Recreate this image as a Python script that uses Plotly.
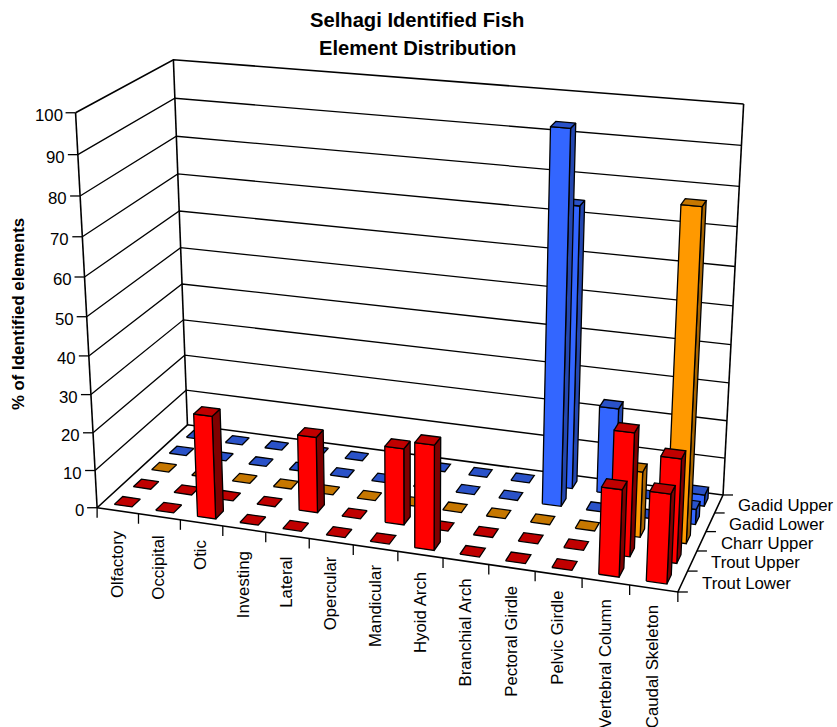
import numpy as np
import plotly.graph_objects as go

categories = ["Olfactory", "Occipital", "Otic", "Investing", "Lateral", "Opercular", "Mandicular",
              "Hyoid Arch", "Branchial Arch", "Pectoral Girdle", "Pelvic Girdle", "Vertebral Column",
              "Caudal Skeleton"]
series_names = ["Trout Lower", "Trout Upper", "Charr Upper", "Gadid Lower", "Gadid Upper"]
trout_lower = [0, 0, 27, 0, 0, 0, 0, 27, 0, 0, 0, 22, 22.5]
trout_upper = [0, 0, 0, 0, 20, 0, 20, 0, 0, 0, 0, 31.5, 26.5]
charr_upper = [0, 0, 0, 0, 0, 0, 0, 0, 0, 0, 0, 17, 83.5]
gadid_lower = [0, 0, 0, 0, 0, 0, 0, 0, 0, 96, 0, 0, 4]
gadid_upper = [0, 0, 0, 0, 0, 0, 0, 0, 0, 74, 23, 0, 3]
y_ticks = [0, 10, 20, 30, 40, 50, 60, 70, 80, 90, 100]

series_values = [trout_lower, trout_upper, charr_upper, gadid_lower, gadid_upper]
FRONT = ["#FF0000", "#FF0000", "#FF9900", "#3366FF", "#3366FF"]
TOP = ["#C00000", "#C00000", "#C67700", "#2A52C8", "#2A52C8"]
SIDE = ["#7F0000", "#7F0000", "#A86500", "#2447B0", "#2447B0"]
LABEL_DROP = [17, 17, 15, 20, 19, 13, 15, 15, 15, 16, 14, 15, 15]

# perspective camera of the box, fitted to its corners
cube = [(0, 0, 0, 97.5, 507.5), (1, 0, 0, 678, 592), (0, 1, 0, 187, 425), (1, 1, 0, 723, 495),
        (0, 0, 1, 75, 113), (0, 1, 1, 174, 59.5), (1, 1, 1, 743.5, 104)]
rows = []
for a, b, c, sx, sy in cube:
    rows.append([a, b, c, 1, 0, 0, 0, 0, -sx * a, -sx * b, -sx * c, -sx])
    rows.append([0, 0, 0, 0, a, b, c, 1, -sy * a, -sy * b, -sy * c, -sy])
P = np.linalg.svd(np.array(rows, float))[2][-1].reshape(3, 4)


def proj(u, v, w):
    h = P @ np.array([u, v, w, 1.0])
    return h[0] / h[2], h[1] / h[2]


NC, NS = len(categories), len(series_names)
fig = go.Figure()


def line(pts, width=1.3):
    xy = [proj(*p) for p in pts]
    fig.add_trace(go.Scatter(x=[q[0] for q in xy], y=[q[1] for q in xy], mode="lines",
                             line=dict(color="black", width=width), hoverinfo="skip"))


def seg(p0, dx, dy, width=1.3):
    x0, y0 = proj(*p0)
    fig.add_trace(go.Scatter(x=[x0, x0 + dx], y=[y0, y0 + dy], mode="lines",
                             line=dict(color="black", width=width), hoverinfo="skip"))


def face(pts, color, text):
    xy = [proj(*p) for p in pts]
    xy.append(xy[0])
    fig.add_trace(go.Scatter(x=[q[0] for q in xy], y=[q[1] for q in xy], mode="lines",
                             fill="toself", fillcolor=color, line=dict(color="black", width=1.3),
                             hoveron="fills", text=text, hoverinfo="text"))


# walls and gridlines
for t in y_ticks:
    w = t / 100
    line([(0, 0, w), (0, 1, w), (1, 1, w)], 1.3 if 0 < t < 100 else 1.6)
line([(0, 0, 0), (0, 0, 1)], 1.6)
line([(0, 1, 0), (0, 1, 1)], 1.6)
line([(1, 1, 0), (1, 1, 1)], 1.6)
line([(0, 0, 0), (1, 0, 0), (1, 1, 0)], 1.6)

# ticks
annotations = []
for t in y_ticks:
    seg((0, 0, t / 100), -10, 0)
    x, y = proj(0, 0, t / 100)
    annotations.append(dict(x=x - 11, y=y + 2.5, text=str(t), xanchor="right", yanchor="middle",
                            font=dict(size=16.8)))
for i in range(NC + 1):
    seg((i / NC, 0, 0), 0, 10)
for i, name in enumerate(categories):
    x, y = proj((i + 0.5) / NC, 0, 0)
    annotations.append(dict(x=x - 0.5, y=y + LABEL_DROP[i], text=name, xanchor="center", yanchor="top",
                            textangle=-90, font=dict(size=16.8)))
for k in range(NS + 1):
    seg((1, k / NS, 0), 10, 0)
for k, name in enumerate(series_names):
    x, y = proj(1, (k + 0.5) / NS, 0)
    annotations.append(dict(x=x + 17, y=y + 2, text=name, xanchor="left", yanchor="middle",
                            font=dict(size=16.8)))

# bars, back row first, left to right
HW, HD = 0.215, 0.22
for k in range(NS - 1, -1, -1):
    for i in range(NC):
        val = series_values[k][i]
        w = val / 100
        u0, u1 = (i + 0.5 - HW) / NC, (i + 0.5 + HW) / NC
        v0, v1 = (k + 0.5 - HD) / NS, (k + 0.5 + HD) / NS
        label = f"{series_names[k]} / {categories[i]}: {val}"
        if val > 0:
            face([(u1, v0, 0), (u1, v1, 0), (u1, v1, w), (u1, v0, w)], SIDE[k], label)
            face([(u0, v0, 0), (u1, v0, 0), (u1, v0, w), (u0, v0, w)], FRONT[k], label)
        face([(u0, v0, w), (u1, v0, w), (u1, v1, w), (u0, v1, w)], TOP[k], label)

annotations.append(dict(x=417, y=19.5, text="<b>Selhagi Identified Fish</b>", xanchor="center",
                        yanchor="middle", font=dict(size=20.2)))
annotations.append(dict(x=417, y=47.5, text="<b>Element Distribution</b>", xanchor="center",
                        yanchor="middle", font=dict(size=20.2)))
annotations.append(dict(x=18, y=314, text="<b>% of Identified elements</b>", xanchor="center",
                        yanchor="middle", textangle=-90, font=dict(size=16.8)))
for a in annotations:
    a.update(xref="x", yref="y", showarrow=False)

fig.update_layout(width=837, height=727, margin=dict(l=0, r=0, t=0, b=0), showlegend=False,
                  paper_bgcolor="white", plot_bgcolor="white",
                  font=dict(family="Liberation Sans", color="black"), annotations=annotations,
                  xaxis=dict(range=[0, 837], visible=False, fixedrange=True),
                  yaxis=dict(range=[727, 0], visible=False, fixedrange=True))
fig.write_html("out.html", post_script="document.body.style.margin='0';document.body.style.overflow='hidden';",
               config={"displayModeBar": False})
